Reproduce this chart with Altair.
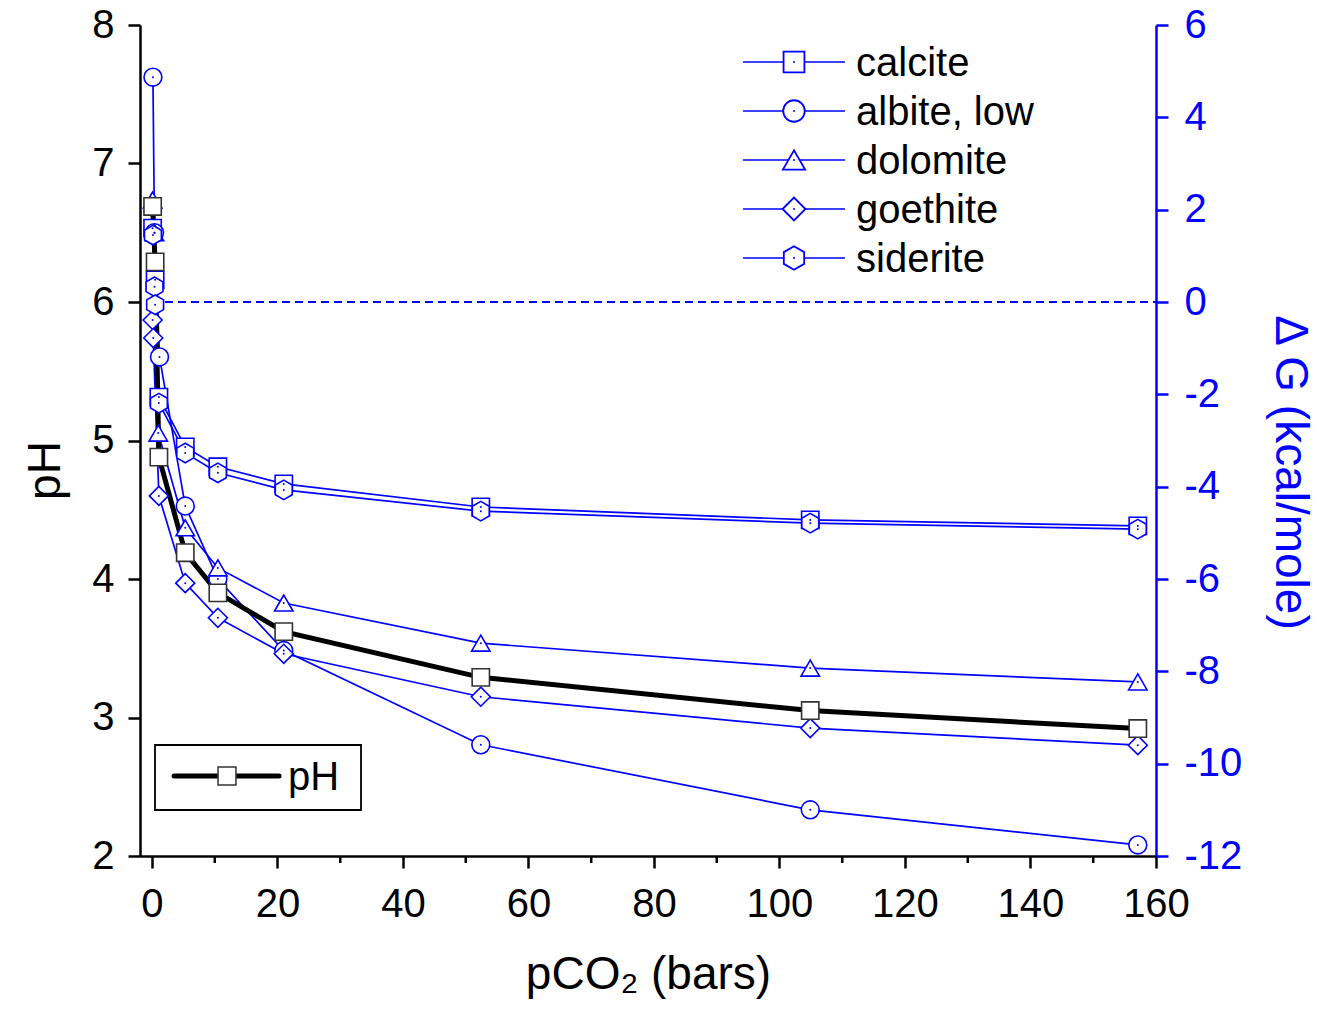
import altair as alt
import pandas as pd

# ---------------- data ----------------
pco2_ph = [0.1, 0.5, 1.1, 5.3, 10.5, 21.0, 52.4, 104.9, 157.1]
ph_values = [6.69, 6.29, 4.88, 4.19, 3.90, 3.62, 3.29, 3.05, 2.92]

minerals = ["calcite", "albite, low", "dolomite", "goethite", "siderite"]

calcite_x = [0.1, 0.5, 1.1, 5.3, 10.5, 21.0, 52.4, 104.9, 157.1]
calcite_dg = [1.6, 0.48, -2.06, -3.14, -3.57, -3.94, -4.44, -4.72, -4.85]

albite_x = [0.15, 0.4, 1.2, 5.3, 10.5, 21.0, 52.4, 104.9, 157.1]
albite_dg = [4.87, 1.5, -1.19, -4.42, -6.0, -7.55, -9.59, -11.0, -11.76]

dolomite_x = [0.1, 0.4, 1.0, 5.3, 10.5, 21.0, 52.4, 104.9, 157.1]
dolomite_dg = [2.21, 1.5, -2.84, -4.89, -5.76, -6.52, -7.39, -7.93, -8.23]

goethite_x = [0.1, 0.2, 1.1, 5.3, 10.5, 21.0, 52.4, 104.9, 157.1]
goethite_dg = [-0.39, -0.78, -4.2, -6.09, -6.84, -7.62, -8.55, -9.23, -9.6]

siderite_x = [0.15, 0.4, 0.5, 1.1, 5.3, 10.5, 21.0, 52.4, 104.9, 157.1]
siderite_dg = [1.45, 0.33, -0.06, -2.19, -3.27, -3.70, -4.07, -4.53, -4.79, -4.92]

x_ticks = [0, 20, 40, 60, 80, 100, 120, 140, 160]
x_minor = [10, 30, 50, 70, 90, 110, 130, 150]
ph_ticks = [2, 3, 4, 5, 6, 7, 8]
dg_ticks = [-12, -10, -8, -6, -4, -2, 0, 2, 4, 6]

# ---------------- tables ----------------
series = {
    "calcite": (calcite_x, calcite_dg),
    "albite, low": (albite_x, albite_dg),
    "dolomite": (dolomite_x, dolomite_dg),
    "goethite": (goethite_x, goethite_dg),
    "siderite": (siderite_x, siderite_dg),
}
rows = []
for m, (xs, ys) in series.items():
    for xv, yv in zip(xs, ys):
        rows.append({"mineral": m, "pco2": xv, "dg": yv})
df_dg = pd.DataFrame(rows)
df_ph = pd.DataFrame({"pco2": pco2_ph, "ph": ph_values})

BLUE = "#0000ff"
FONT = "Liberation Sans"
W, H = 1016, 831
LBL = 40
TTL = 46

hexagon = "M0,-1L0.866,-0.5L0.866,0.5L0,1L-0.866,0.5L-0.866,-0.5Z"
shape_range = ["square", "circle", "triangle-up", "diamond", hexagon]
size_range = [300, 380, 500, 540, 440]

x_scale = alt.Scale(domain=[-1.91, 160], nice=False, zero=False)
ph_scale = alt.Scale(domain=[2, 8], nice=False, zero=False)
dg_scale = alt.Scale(domain=[-12, 6], nice=False, zero=False)

plain_label = "'' + datum.value"

x_axis = alt.Axis(values=x_ticks, title="pCO₂ (bars)", grid=False,
                  domainColor="black", domainWidth=2.5, tickColor="black",
                  tickWidth=2.5, tickSize=12, labelFontSize=LBL, labelFont=FONT,
                  labelPadding=16, labelColor="black", titleFontSize=TTL,
                  titleFont=FONT, titleFontWeight="normal", titlePadding=28,
                  titleColor="black", labelFlush=False, labelExpr=plain_label)
ph_axis = alt.Axis(orient="left", values=ph_ticks, title="pH", grid=False,
                   domainColor="black", domainWidth=2.5, tickColor="black",
                   tickWidth=2.5, tickSize=12, labelFontSize=LBL, labelFont=FONT,
                   labelPadding=14, labelColor="black", titleFontSize=TTL,
                   titleFont=FONT, titleFontWeight="normal", titlePadding=22,
                   titleColor="black", labelFlush=False, titleY=445,
                   labelExpr=plain_label)
dg_axis = alt.Axis(orient="right", values=dg_ticks, title="Δ G (kcal/mole)",
                   grid=False, domainColor=BLUE, domainWidth=2.5, tickColor=BLUE,
                   tickWidth=2.5, tickSize=12, labelFontSize=LBL, labelFont=FONT,
                   labelPadding=16, labelColor=BLUE, titleFontSize=TTL,
                   titleFont=FONT, titleFontWeight="normal", titlePadding=24,
                   titleColor=BLUE, labelFlush=False, titleY=447,
                   labelExpr=plain_label)


def X(field="pco2"):
    return alt.X(f"{field}:Q", scale=x_scale, axis=x_axis)


def Ydg(axis=None):
    return alt.Y("dg:Q", scale=dg_scale, axis=axis)


def Yph(axis=None):
    return alt.Y("ph:Q", scale=ph_scale, axis=axis)


# zero line (dashed)
zero_df = pd.DataFrame({"x0": [0.0], "x1": [160.0], "dg": [0.0]})
zero_line = alt.Chart(zero_df).mark_rule(
    color=BLUE, strokeWidth=2, strokeDash=[8, 5]
).encode(x=X("x0"), x2="x1:Q", y=Ydg(dg_axis))

# minor ticks on x axis
minor_df = pd.DataFrame({"pco2": x_minor})
minor_ticks = alt.Chart(minor_df).mark_rule(color="black", strokeWidth=2.5).encode(
    x=X(), y=alt.value(H), y2=alt.value(H + 7)
)

blue_lines = alt.Chart(df_dg).mark_line(color=BLUE, strokeWidth=1.7).encode(
    x=X(), y=Ydg(), detail="mineral:N"
)

ph_line = alt.Chart(df_ph).mark_line(color="black", strokeWidth=5).encode(
    x=X(), y=Yph(ph_axis)
)

blue_markers = alt.Chart(df_dg).mark_point(
    fill="white", fillOpacity=1, stroke=BLUE, strokeWidth=1.6, opacity=1
).encode(
    x=X(), y=Ydg(),
    shape=alt.Shape("mineral:N", scale=alt.Scale(domain=minerals, range=shape_range), legend=None),
    size=alt.Size("mineral:N", scale=alt.Scale(domain=minerals, range=size_range), legend=None),
)
blue_dots = alt.Chart(df_dg).mark_point(
    shape="circle", size=4, filled=True, color=BLUE, opacity=1
).encode(x=X(), y=Ydg())

ph_markers = alt.Chart(df_ph).mark_point(
    shape="square", size=300, fill="white", fillOpacity=1, stroke="#333333",
    strokeWidth=1.6, opacity=1
).encode(x=X(), y=Yph())

# ---------------- legends (pixel positions computed here) ----------------
leg_y0, leg_dy = 62 - 25, 49
leg = pd.DataFrame({
    "mineral": minerals,
    "ly": [leg_y0 + i * leg_dy for i in range(len(minerals))],
})
leg["lx1"] = 743 - 140
leg["lx2"] = 845 - 140
leg["mx"] = 794 - 140
leg["tx"] = 856 - 140
px = lambda f: alt.X(f"{f}:Q", scale=None, axis=None)
py = lambda f: alt.Y(f"{f}:Q", scale=None, axis=None)

leg_lines = alt.Chart(leg).mark_rule(color=BLUE, strokeWidth=1.7).encode(
    x=px("lx1"), x2="lx2:Q", y=py("ly")
)
leg_markers = alt.Chart(leg).mark_point(
    fill="white", fillOpacity=1, stroke=BLUE, strokeWidth=1.8, opacity=1
).encode(
    x=px("mx"), y=py("ly"),
    shape=alt.Shape("mineral:N", scale=alt.Scale(domain=minerals, range=shape_range), legend=None),
    size=alt.Size("mineral:N", scale=alt.Scale(domain=minerals, range=[s * 1.45 for s in size_range]), legend=None),
)
leg_dots = alt.Chart(leg).mark_point(shape="circle", size=4, filled=True, color=BLUE, opacity=1).encode(
    x=px("mx"), y=py("ly")
)
leg_text = alt.Chart(leg).mark_text(
    align="left", baseline="middle", fontSize=LBL, font=FONT, color="black", dy=2
).encode(x=px("tx"), y=py("ly"), text="mineral:N")

# pH legend box
box = pd.DataFrame({"x1": [155 - 140], "x2": [361 - 140], "y1": [745 - 25], "y2": [810 - 25],
                    "lx1": [174 - 140], "lx2": [279 - 140], "mx": [227 - 140],
                    "ly": [776 - 25], "tx": [288 - 140], "label": ["pH"]})
ph_box = alt.Chart(box).mark_rect(fill="white", stroke="black", strokeWidth=1.8).encode(
    x=px("x1"), x2="x2:Q", y=py("y1"), y2="y2:Q"
)
ph_leg_line = alt.Chart(box).mark_rule(color="black", strokeWidth=5, strokeCap="round").encode(
    x=px("lx1"), x2="lx2:Q", y=py("ly")
)
ph_leg_marker = alt.Chart(box).mark_point(
    shape="square", size=320, fill="white", fillOpacity=1, stroke="#333333",
    strokeWidth=1.5, opacity=1
).encode(x=px("mx"), y=py("ly"))
ph_leg_text = alt.Chart(box).mark_text(
    align="left", baseline="middle", fontSize=LBL, font=FONT, color="black", dy=2
).encode(x=px("tx"), y=py("ly"), text="label:N")

chart = alt.layer(
    zero_line, minor_ticks, blue_lines, ph_line, blue_markers, blue_dots, ph_markers,
    leg_lines, leg_markers, leg_dots, leg_text,
    ph_box, ph_leg_line, ph_leg_marker, ph_leg_text,
).resolve_scale(
    y="independent", shape="independent", size="independent"
).properties(
    width=W, height=H,
    autosize=alt.AutoSizeParams(type="none"),
    padding={"left": 140, "top": 25, "right": 161, "bottom": 156},
    background="white",
).configure_view(stroke=None)

chart.save("out.html", embed_options={"renderer": "svg", "actions": False})
